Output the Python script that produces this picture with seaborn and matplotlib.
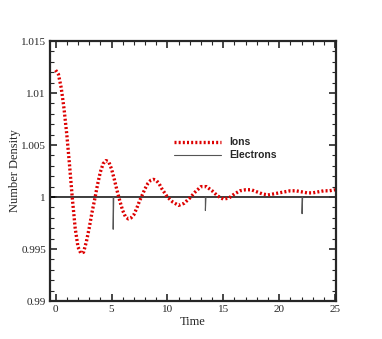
import numpy as np
import pandas as pd
import matplotlib.pyplot as plt
import matplotlib as mpl
import seaborn as sns

sns.set_style('ticks')
mpl.rcParams['font.family'] = ['Liberation Serif', 'DejaVu Serif']

# ions density
ion_t = [0, 0.25, 0.5, 0.75, 1.0, 1.25, 1.5, 1.75, 2.0, 2.25, 2.5, 2.75, 3.0, 3.25,
         3.5, 3.75, 4.0, 4.25, 4.5, 4.75, 5.0, 5.25, 5.5, 5.75, 6.0, 6.25, 6.5, 6.75,
         7.0, 7.25, 7.5, 7.75, 8.0, 8.25, 8.5, 8.75, 9.0, 9.25, 9.5, 9.75, 10.0, 10.5,
         11.0, 11.5, 12.0, 12.5, 13.0, 13.5, 14.0, 14.5, 15.0, 15.5, 16.0, 16.5, 17.0,
         17.5, 18.0, 18.5, 19.0, 19.5, 20.0, 20.5, 21.0, 21.5, 22.0, 22.5, 23.0, 23.5,
         24.0, 24.5, 25.0]
ion_n = [1.0122, 1.0118, 1.0105, 1.0085, 1.0060, 1.0030, 0.9998, 0.9970, 0.9952,
         0.9946, 0.9947, 0.9957, 0.9970, 0.9985, 0.9998, 1.0012, 1.0024, 1.0032,
         1.0035, 1.0034, 1.0027, 1.0017, 1.0006, 0.9996, 0.9987, 0.9981, 0.9979,
         0.9980, 0.9983, 0.9989, 0.9996, 1.0002, 1.0008, 1.0013, 1.0016, 1.0017,
         1.0016, 1.0013, 1.0008, 1.0004, 1.0000, 0.9995, 0.9992, 0.9994, 0.9999,
         1.0005, 1.0010, 1.0010, 1.0006, 1.0001, 0.9998, 0.9999, 1.0003, 1.0006,
         1.0007, 1.0007, 1.0005, 1.0003, 1.0002, 1.0003, 1.0004, 1.0005, 1.0006,
         1.0006, 1.0005, 1.0004, 1.0004, 1.0005, 1.0006, 1.0006, 1.0007]

# electrons: flat at 1 with a few downward spikes
ele_t = [0, 5.15, 5.15, 5.2, 13.4, 13.4, 13.45, 22.05, 22.05, 22.1, 25]
ele_n = [1.0, 1.0, 0.9969, 1.0, 1.0, 0.9987, 1.0, 1.0, 0.9984, 1.0, 1.0]

yticks = [0.99, 0.995, 1.0, 1.005, 1.01, 1.015]
ylabels = ['0.99', '0.995', '1', '1.005', '1.01', '1.015']
xticks = [0, 5, 10, 15, 20, 25]

df_ion = pd.DataFrame({'Time': ion_t, 'n': ion_n})
df_ele = pd.DataFrame({'Time': ele_t, 'n': ele_n})

fig = plt.figure(figsize=(3.82, 3.39), dpi=100)
ax = fig.add_axes([0.131, 0.112, 0.749, 0.767])

ax.axhline(1.0, color='black', linewidth=1.2, zorder=1)
sns.lineplot(data=df_ele, x='Time', y='n', ax=ax, color='#555555', linewidth=0.8,
             label='Electrons', estimator=None, sort=False)
sns.lineplot(data=df_ion, x='Time', y='n', ax=ax, color='#dd0000', linewidth=2.4,
             linestyle=(0, (0.6, 0.65)), label='Ions', estimator=None, sort=False)

ax.set_xlim(-0.5, 25.1)
ax.set_ylim(0.99, 1.015)
ax.set_xticks(xticks)
ax.set_xticklabels([str(x) for x in xticks])
ax.set_yticks(yticks)
ax.set_yticklabels(ylabels)
ax.xaxis.set_minor_locator(mpl.ticker.MultipleLocator(1))
ax.yaxis.set_minor_locator(mpl.ticker.MultipleLocator(0.001))
ax.tick_params(which='major', direction='in', length=5, width=1.2, labelsize=8, pad=3,
               top=True, right=True)
ax.tick_params(which='minor', direction='in', length=3, width=0.8, top=True, right=True)
for s in ['top', 'bottom', 'left', 'right']:
    ax.spines[s].set_linewidth(1.6)
    ax.spines[s].set_visible(True)

ax.set_xlabel('Time', fontsize=9, labelpad=1)
ax.set_ylabel('Number Density', fontsize=9, labelpad=0)

h, l = ax.get_legend_handles_labels()
leg = ax.legend(h[::-1], l[::-1], loc='center left', bbox_to_anchor=(0.40, 0.585),
                frameon=False, handlelength=4.5, handletextpad=0.8, labelspacing=0.3,
                prop={'family': 'Liberation Sans', 'weight': 'bold', 'size': 7.5})

plt.savefig('out.png', dpi=100)
